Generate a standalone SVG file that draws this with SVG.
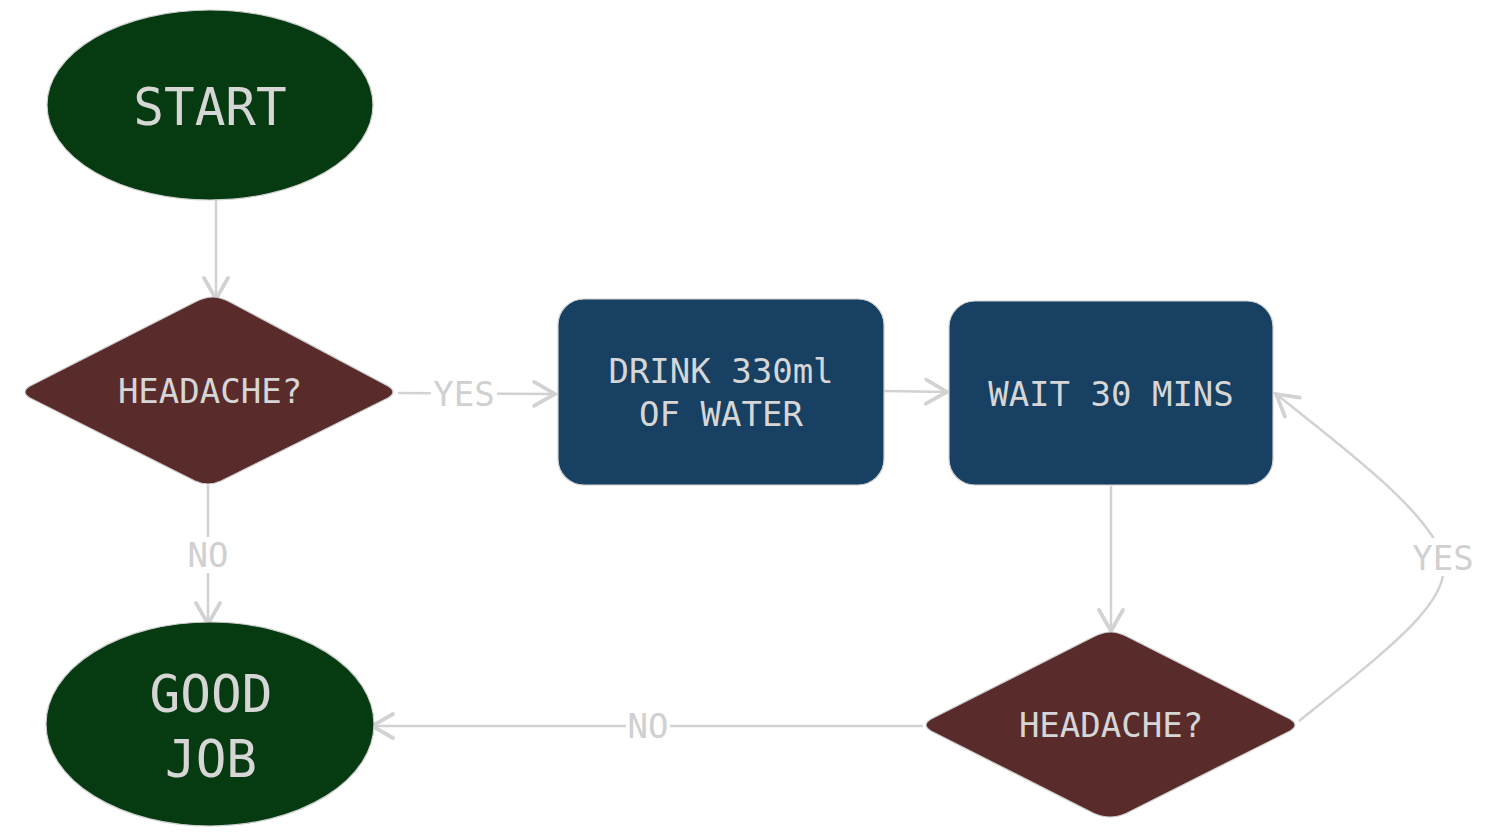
<svg xmlns="http://www.w3.org/2000/svg" width="1485" height="836" viewBox="0 0 1485 836">
<style>
.t{font-family:"DejaVu Sans Mono","Liberation Mono",monospace;fill:#d6d6d6;text-anchor:middle}
.big{font-size:51px}
.mid{font-size:34px}
.lbl{font-size:34px;fill:#d0d0d0}
.ell{fill:#063a10;stroke:#cfcfcf;stroke-width:1.2}
.dia{fill:#5a2b2b;stroke:#cfcfcf;stroke-width:1.2}
.box{fill:#174062;stroke:#cfcfcf;stroke-width:1.2}
.c{fill:none;stroke:#d2d2d2;stroke-width:2.5}
.bg{fill:#ffffff}
</style>
<defs>
<marker id="ah" markerUnits="userSpaceOnUse" markerWidth="30" markerHeight="30" refX="0" refY="0" viewBox="-16 -10 20 20" orient="auto">
<path d="M-14,-8 L0,0 L-14,8" fill="none" stroke="#d2d2d2" stroke-width="2.5" stroke-linecap="round"/>
</marker>
</defs>
<rect width="1485" height="836" fill="#ffffff"/>
<g id="connectors">
<path class="c" d="M216,200 L216,299" marker-end="url(#ah)"/>
<path class="c" d="M398,393 L555,394" marker-end="url(#ah)"/>
<path class="c" d="M884,391 L947,392" marker-end="url(#ah)"/>
<path class="c" d="M208,485 L208,624" marker-end="url(#ah)"/>
<path class="c" d="M1111,486 L1111,631" marker-end="url(#ah)"/>
<path class="c" d="M923,726 L372,726" marker-end="url(#ah)"/>
<path class="c" d="M1299,721 C1400,640 1460,595 1440,550 C1420,505 1340,445 1276,394" marker-end="url(#ah)"/>
<rect class="bg" x="431" y="376" width="66" height="36"/>
<text class="t lbl" x="464" y="406">YES</text>
<rect class="bg" x="186" y="537" width="44" height="36"/>
<text class="t lbl" x="208" y="567">NO</text>
<rect class="bg" x="626" y="708" width="44" height="36"/>
<text class="t lbl" x="648" y="738">NO</text>
<rect class="bg" x="1410" y="538" width="66" height="38"/>
<text class="t lbl" x="1443" y="570">YES</text>
</g>
<g id="start">
<ellipse class="ell" cx="210" cy="105" rx="163" ry="95"/>
<text class="t big" x="210" y="125">START</text>
</g>
<g id="headache1">
<path class="dia" d="M213,297 Q205,297 195,302 L30,386 Q20,392 30,398 L195,481 Q208,487 221,481 L388,398 Q398,392 388,386 L230,302 Q220,297 213,297 Z"/>
<text class="t mid" x="210" y="403">HEADACHE?</text>
</g>
<g id="drink">
<rect class="box" x="558" y="299" width="326" height="186" rx="26"/>
<text class="t mid" x="721" y="383">DRINK 330ml</text>
<text class="t mid" x="721" y="426">OF WATER</text>
</g>
<g id="wait">
<rect class="box" x="949" y="301" width="324" height="184" rx="26"/>
<text class="t mid" x="1111" y="406">WAIT 30 MINS</text>
</g>
<g id="headache2">
<path class="dia" d="M1111,632 Q1103,632 1093,637 L931,719 Q921,725 931,731 L1093,813 Q1110,821 1127,813 L1290,731 Q1300,725 1290,719 L1128,637 Q1118,632 1111,632 Z"/>
<text class="t mid" x="1111" y="737">HEADACHE?</text>
</g>
<g id="goodjob">
<ellipse class="ell" cx="210" cy="724" rx="164" ry="102"/>
<text class="t big" x="211" y="712">GOOD</text>
<text class="t big" x="211" y="777">JOB</text>
</g>
</svg>
